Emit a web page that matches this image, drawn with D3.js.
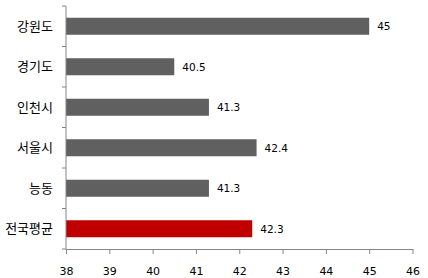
<!DOCTYPE html>
<html><head><meta charset="utf-8">
<script src="https://cdn.jsdelivr.net/npm/d3@7"></script>
<style>body{margin:0;background:#fff}</style>
</head><body>
<svg id="c" width="428" height="278"></svg>
<script>
const categories = ["강원도","경기도","인천시","서울시","능동","전국평균"];
const values = [45, 40.5, 41.3, 42.4, 41.3, 42.3];
const colors = ["#606060","#606060","#606060","#606060","#606060","#C00000"];
const xTicks = [38,39,40,41,42,43,44,45,46];

(function(){
const svg = d3.select("#c");
const mL = 66, mR = 412.5, mT = 6, mB = 249;
const x = d3.scaleLinear().domain([38,46]).range([mL,mR]);
const y = d3.scaleBand().domain(categories).range([mT,mB]).paddingInner(0.58).paddingOuter(0.29);

svg.selectAll("rect.bar").data(categories).enter().append("rect")
  .attr("x", x(38)).attr("y", d=>y(d))
  .attr("width", (d,i)=>x(values[i])-x(38)).attr("height", y.bandwidth())
  .attr("fill", (d,i)=>colors[i]);

svg.selectAll("text.val").data(categories).enter().append("text")
  .attr("x", (d,i)=>x(values[i])+8).attr("y", d=>y(d)+y.bandwidth()/2)
  .attr("dy","0.36em").attr("font-family","DejaVu Sans").attr("font-size",10.5)
  .attr("fill","#000").text((d,i)=>values[i]);

const axisColor = "#868686";
const xa = svg.append("g").attr("transform",`translate(0,${mB})`)
  .call(d3.axisBottom(x).tickValues(xTicks).tickSize(5).tickSizeOuter(0).tickPadding(13).tickFormat(d3.format("d")));
xa.select(".domain").attr("stroke",axisColor);
xa.selectAll(".tick line").attr("stroke",axisColor);
xa.selectAll("text").attr("font-family","DejaVu Sans").attr("font-size",11).attr("fill","#000");

svg.append("line").attr("x1",mL).attr("x2",mL).attr("y1",mT).attr("y2",mB).attr("stroke",axisColor);
const bounds = d3.range(categories.length+1).map(i=>mT + i*(mB-mT)/categories.length);
svg.selectAll("line.yt").data(bounds).enter().append("line")
  .attr("x1",mL-4).attr("x2",mL).attr("y1",d=>d).attr("y2",d=>d).attr("stroke",axisColor);

svg.selectAll("text.cat").data(categories).enter().append("text")
  .attr("x", 53).attr("y", d=>y(d)+y.bandwidth()/2).attr("dy","0.36em")
  .attr("text-anchor","end").attr("font-family","Noto Sans CJK KR").attr("font-size",13)
  .attr("fill","#000").text(d=>d);
})();
</script>
</body></html>
